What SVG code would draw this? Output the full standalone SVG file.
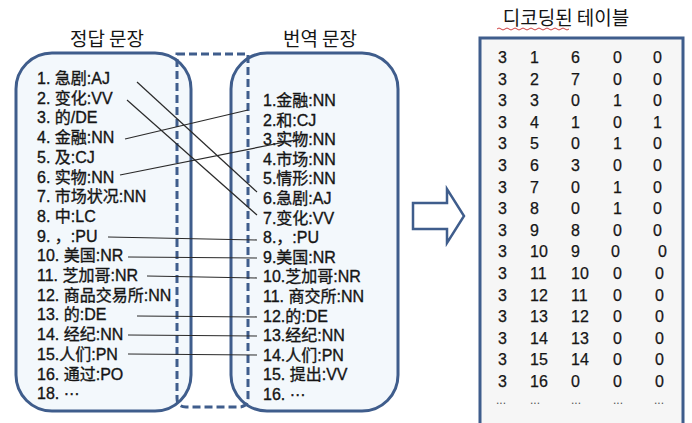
<svg xmlns="http://www.w3.org/2000/svg" width="692" height="423" viewBox="0 0 692 423">
<style>
.box{fill:#f3f8fc;stroke:#3f5d8c;stroke-width:3}
.dash{fill:none;stroke:#3f5d8c;stroke-width:3;stroke-dasharray:8,4}
.t{font-family:"Liberation Sans","Noto Sans CJK SC",sans-serif;font-size:16px;fill:#151515;stroke:#151515;stroke-width:0.35}
.h{font-family:"Noto Sans CJK KR","Liberation Sans",sans-serif;font-size:19px;fill:#151515;text-anchor:middle}
.n{font-family:"Liberation Sans",sans-serif;font-size:16px;fill:#151515;stroke:#151515;stroke-width:0.25}
.d{font-family:"Liberation Sans",sans-serif;font-size:12px;fill:#555}
.c{stroke:#2a2a2a;stroke-width:1.2;fill:none}
</style>
<rect width="692" height="423" fill="#ffffff"/>
<g id="titles">
<text class="h" x="107" y="46">정답 문장</text>
<text class="h" x="320" y="46">번역 문장</text>
<text class="h" x="566" y="25">디코딩된 테이블</text>
<path d="M497,29 q2,-2 4,0 t4,0 t4,0 t4,0 t4,0 t4,0 t4,0 t4,0 t4,0 t4,0 t4,0 t4,0 t4,0 t4,0 t4,0 t4,0 t4,0 t4,0" fill="none" stroke="#d04040" stroke-width="1"/>
</g>
<g id="source-box">
<rect class="box" x="16" y="53" width="175" height="358" rx="36"/>
</g>
<g id="target-box">
<rect class="box" x="231" y="53" width="167" height="358" rx="36"/>
</g>
<g id="overlap">
<path class="dash" d="M177,54 H248 V398 Q248,407 239,407 H186 Q177,407 177,398 Z"/>
</g>
<g id="source-text" class="t">
<text x="37" y="84">1. 急剧:AJ</text>
<text x="37" y="103.7">2. 变化:VV</text>
<text x="37" y="123.4">3. 的/DE</text>
<text x="37" y="143.1">4. 金融:NN</text>
<text x="37" y="162.8">5. 及:CJ</text>
<text x="37" y="182.5">6. 实物:NN</text>
<text x="37" y="202.2">7. 市场状况:NN</text>
<text x="37" y="221.9">8. 中:LC</text>
<text x="37" y="241.6">9. ，:PU</text>
<text x="37" y="261.3">10. 美国:NR</text>
<text x="37" y="281">11. 芝加哥:NR</text>
<text x="37" y="300.7">12. 商品交易所:NN</text>
<text x="37" y="320.4">13. 的:DE</text>
<text x="37" y="340.1">14. 经纪:NN</text>
<text x="37" y="359.8">15.人们:PN</text>
<text x="37" y="379.5">16. 通过:PO</text>
<text x="37" y="399.2">18.  ···</text>
</g>
<g id="target-text" class="t">
<text x="263" y="106">1.金融:NN</text>
<text x="263" y="125.6">2.和:CJ</text>
<text x="263" y="145.2">3.实物:NN</text>
<text x="263" y="164.8">4.市场:NN</text>
<text x="263" y="184.4">5.情形:NN</text>
<text x="263" y="204">6.急剧:AJ</text>
<text x="263" y="223.6">7.变化:VV</text>
<text x="263" y="243.2">8.，:PU</text>
<text x="263" y="262.8">9.美国:NR</text>
<text x="263" y="282.4">10.芝加哥:NR</text>
<text x="263" y="302">11. 商交所:NN</text>
<text x="263" y="321.6">12.的:DE</text>
<text x="263" y="341.2">13.经纪:NN</text>
<text x="263" y="360.8">14.人们:PN</text>
<text x="263" y="380.4">15. 提出:VV</text>
<text x="263" y="400">16. ···</text>
</g>
<g id="connectors">
<line class="c" x1="137" y1="82" x2="257" y2="192"/>
<line class="c" x1="127" y1="100" x2="257" y2="215"/>
<line class="c" x1="125" y1="139" x2="248" y2="110"/>
<line class="c" x1="120" y1="175" x2="300" y2="139"/>
<line class="c" x1="108" y1="237" x2="257" y2="240"/>
<line class="c" x1="128" y1="257" x2="257" y2="258"/>
<line class="c" x1="147" y1="276" x2="257" y2="278"/>
<line class="c" x1="137" y1="316" x2="257" y2="317"/>
<line class="c" x1="128" y1="335" x2="257" y2="336"/>
<line class="c" x1="128" y1="354" x2="257" y2="355"/>
</g>
<g id="arrow">
<path d="M413,203 H447 V189 L464,216 L447,243 V229 H413 Z" fill="#ffffff" stroke="#3f5d8c" stroke-width="2.5" stroke-linejoin="miter"/>
</g>
<g id="table">
<rect x="480" y="38" width="203" height="400" fill="#f6f6f6" stroke="#3f5d8c" stroke-width="3"/>
<g class="n">
<text x="498" y="63">3</text><text x="530" y="63">1</text><text x="571" y="63">6</text><text x="613" y="63">0</text><text x="653" y="63">0</text>
<text x="498" y="84.6">3</text><text x="530" y="84.6">2</text><text x="571" y="84.6">7</text><text x="613" y="84.6">0</text><text x="653" y="84.6">0</text>
<text x="498" y="106.2">3</text><text x="530" y="106.2">3</text><text x="571" y="106.2">0</text><text x="613" y="106.2">1</text><text x="653" y="106.2">0</text>
<text x="498" y="127.8">3</text><text x="530" y="127.8">4</text><text x="571" y="127.8">1</text><text x="613" y="127.8">0</text><text x="653" y="127.8">1</text>
<text x="498" y="149.4">3</text><text x="530" y="149.4">5</text><text x="571" y="149.4">0</text><text x="613" y="149.4">1</text><text x="653" y="149.4">0</text>
<text x="498" y="171">3</text><text x="530" y="171">6</text><text x="571" y="171">3</text><text x="613" y="171">0</text><text x="653" y="171">0</text>
<text x="498" y="192.6">3</text><text x="530" y="192.6">7</text><text x="571" y="192.6">0</text><text x="613" y="192.6">1</text><text x="653" y="192.6">0</text>
<text x="498" y="214.2">3</text><text x="530" y="214.2">8</text><text x="571" y="214.2">0</text><text x="613" y="214.2">1</text><text x="653" y="214.2">0</text>
<text x="498" y="235.8">3</text><text x="530" y="235.8">9</text><text x="571" y="235.8">8</text><text x="613" y="235.8">0</text><text x="653" y="235.8">0</text>
<text x="498" y="257.4">3</text><text x="530" y="257.4">10</text><text x="571" y="257.4">9</text><text x="611" y="257.4">0</text><text x="658" y="257.4">0</text>
<text x="498" y="279">3</text><text x="530" y="279">11</text><text x="571" y="279">10</text><text x="613" y="279">0</text><text x="655" y="279">0</text>
<text x="498" y="300.6">3</text><text x="530" y="300.6">12</text><text x="571" y="300.6">11</text><text x="613" y="300.6">0</text><text x="655" y="300.6">0</text>
<text x="498" y="322.2">3</text><text x="530" y="322.2">13</text><text x="571" y="322.2">12</text><text x="613" y="322.2">0</text><text x="655" y="322.2">0</text>
<text x="498" y="343.8">3</text><text x="530" y="343.8">14</text><text x="571" y="343.8">13</text><text x="613" y="343.8">0</text><text x="655" y="343.8">0</text>
<text x="498" y="365.4">3</text><text x="530" y="365.4">15</text><text x="571" y="365.4">14</text><text x="613" y="365.4">0</text><text x="655" y="365.4">0</text>
<text x="498" y="387">3</text><text x="530" y="387">16</text><text x="571" y="387">0</text><text x="613" y="387">0</text><text x="655" y="387">0</text>
</g>
<g class="d">
<text x="496" y="404">...</text><text x="530" y="404">...</text><text x="571" y="404">...</text><text x="613" y="404">...</text><text x="654" y="404">...</text>
</g>
</g>
</svg>
